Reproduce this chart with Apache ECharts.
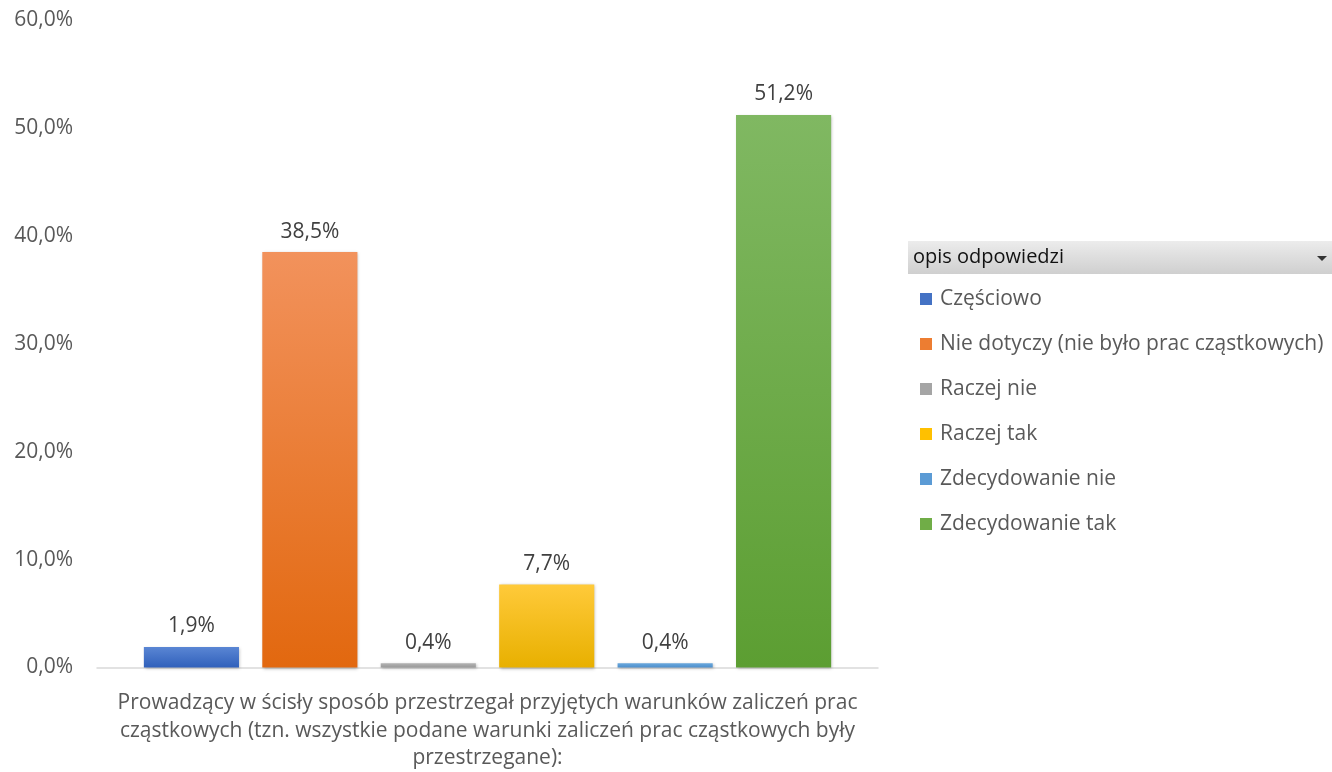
<!DOCTYPE html>
<html>
<head>
<meta charset="utf-8">
<script src="https://cdn.jsdelivr.net/npm/echarts@6/dist/echarts.min.js"></script>
<style>html,body{margin:0;padding:0;background:#fff;}#c{width:1332px;height:772px;}</style>
</head>
<body>
<div id="c"></div>
<script>
var categories = ['Prowadzący w ścisły sposób przestrzegał przyjętych warunków zaliczeń prac\ncząstkowych (tzn. wszystkie podane warunki zaliczeń prac cząstkowych były\nprzestrzegane):'];
var seriesNames = ['Częściowo', 'Nie dotyczy (nie było prac cząstkowych)', 'Raczej nie', 'Raczej tak', 'Zdecydowanie nie', 'Zdecydowanie tak'];
var seriesValues = [1.9, 38.5, 0.4, 7.7, 0.4, 51.2];
var yTicks = [0, 10, 20, 30, 40, 50, 60];
var legendTitle = 'opis odpowiedzi';

var colorsTop = ['#5a86d4', '#f2925c', '#b3b3b3', '#ffca3a', '#6aa8dd', '#80b862'];
var colorsBottom = ['#3060bb', '#e2680f', '#999999', '#e8b000', '#4d8fcc', '#5c9e32'];
var legendColors = ['#4472C4', '#ED7D31', '#A5A5A5', '#FFC000', '#5B9BD5', '#70AD47'];

var FONT = '"Open Sans", "Noto Sans", sans-serif';
function fmt(v) { return v.toFixed(1).replace('.', ',') + '%'; }

var series = seriesNames.map(function (name, i) {
  return {
    name: name,
    type: 'bar',
    data: [seriesValues[i]],
    barGap: '24.5%',
    barCategoryGap: '12%',
    itemStyle: {
      color: new echarts.graphic.LinearGradient(0, 0, 0, 1, [
        { offset: 0, color: colorsTop[i] },
        { offset: 1, color: colorsBottom[i] }
      ]),
      shadowColor: 'rgba(0,0,0,0.25)',
      shadowBlur: 3,
      shadowOffsetX: 1,
      shadowOffsetY: 1
    },
    label: {
      show: true,
      position: 'top',
      distance: 10,
      color: '#404040',
      fontSize: 21,
      fontFamily: FONT,
      formatter: function (p) { return fmt(p.value); }
    },
    emphasis: { disabled: true }
  };
});

var chart = echarts.init(document.getElementById('c'));
chart.setOption({
  animation: false,
  color: legendColors,
  grid: { left: 97, right: 454, top: 20, bottom: 98, containLabel: false },
  xAxis: {
    type: 'category',
    data: categories,
    axisLine: { show: true, lineStyle: { color: '#d9d9d9', width: 1.5 } },
    axisTick: { show: false },
    axisLabel: {
      color: '#595959', fontSize: 21, fontFamily: FONT, lineHeight: 27.5, margin: 22, align: 'center'
    }
  },
  yAxis: {
    type: 'value',
    min: yTicks[0],
    max: yTicks[yTicks.length - 1],
    interval: 10,
    splitLine: { show: false },
    axisLine: { show: false },
    axisTick: { show: false },
    axisLabel: {
      color: '#595959', fontSize: 21, fontFamily: FONT, margin: 24,
      formatter: function (v) { return fmt(v); }
    }
  },
  legend: {
    orient: 'vertical',
    left: 915,
    top: 283,
    itemWidth: 12,
    itemHeight: 12,
    itemGap: 23,
    icon: 'rect',
    selectedMode: false,
    textStyle: { color: '#595959', fontSize: 21, fontFamily: FONT, padding: [0, 0, 0, 3], lineHeight: 22 },
    data: seriesNames.map(function (n, i) { return { name: n, itemStyle: { color: legendColors[i] } }; })
  },
  graphic: [
    {
      type: 'rect',
      shape: { x: 908, y: 241, width: 424, height: 33 },
      style: {
        fill: new echarts.graphic.LinearGradient(0, 0, 0, 1, [
          { offset: 0, color: '#ececec' },
          { offset: 1, color: '#cfcfcf' }
        ])
      },
      silent: true
    },
    {
      type: 'text',
      x: 913, y: 257.5,
      style: { text: legendTitle, fill: '#111', fontSize: 20, fontFamily: FONT, verticalAlign: 'middle' },
      silent: true
    },
    {
      type: 'polygon',
      shape: { points: [[1317, 256], [1327, 256], [1322, 261]] },
      style: { fill: '#333' },
      silent: true
    }
  ],
  series: series
});
</script>
</body>
</html>
